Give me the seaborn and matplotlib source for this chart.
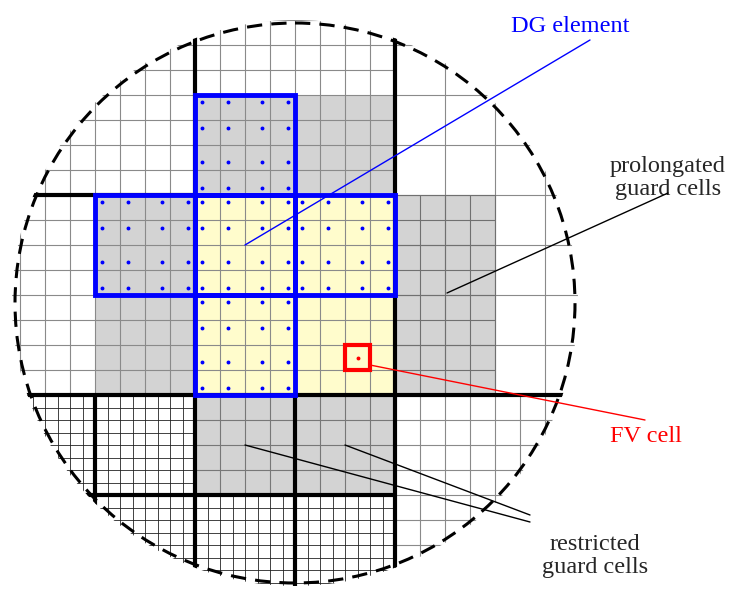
import numpy as np
import seaborn as sns
import matplotlib.pyplot as plt
from matplotlib.patches import Rectangle, Circle

sns.set_theme(style='white')
plt.rcParams['font.family'] = ['Liberation Serif', 'DejaVu Serif']

# blocks (x0, y0) of 100x100 DG elements, pixel units
dg_blocks = [(195, 95), (95, 195), (195, 195), (295, 195), (195, 295)]
yellow_blocks = [(195, 195), (295, 195), (195, 295), (295, 295)]
gray_blocks = [(195, 95), (295, 95), (95, 195), (95, 295), (395, 195), (395, 295), (195, 395), (295, 395)]
node_offsets = [7, 33, 67, 93]
# thick coarse lines: (x0, y0, x1, y1)
thick_lines = [(195, 0, 195, 600), (395, 0, 395, 600), (0, 195, 195, 195), (0, 395, 600, 395),
               (95, 395, 95, 600), (0, 495, 395, 495), (295, 395, 295, 600)]
cx, cy, r = 295, 303, 280

fig = plt.figure(figsize=(7.47, 5.95), dpi=100)
ax = fig.add_axes([0, 0, 1, 1])
ax.set_xlim(0, 747)
ax.set_ylim(595, 0)
ax.axis('off')
clip = Circle((cx, cy), r + 3, transform=ax.transData)

def grid(x0, x1, y0, y1, step, color, lw):
    for x in np.arange(x0, x1 + 0.01, step):
        ax.plot([x, x], [y0, y1], color=color, lw=lw, clip_path=clip)
    for y in np.arange(y0, y1 + 0.01, step):
        ax.plot([x0, x1], [y, y], color=color, lw=lw, clip_path=clip)

for x, y in gray_blocks:
    ax.add_patch(Rectangle((x, y), 100, 100, fc='#d3d3d3', ec='none'))
for x, y in yellow_blocks:
    ax.add_patch(Rectangle((x, y), 100, 100, fc='#fffccc', ec='none'))

# mesh refinement levels by region
grid(-30, 395, -30, 395, 25, '#8a8a8a', 0.8)
grid(395, 595, -5, 395, 50, '#8a8a8a', 0.8)
grid(395, 495, 195, 395, 25, '#707070', 0.8)
grid(395, 595, 395, 595, 25, '#8a8a8a', 0.8)
grid(-5, 195, 395, 600, 12.5, '#222222', 0.6)
grid(195, 395, 495, 600, 12.5, '#222222', 0.6)
grid(195, 395, 395, 495, 25, '#777777', 0.8)

for x0, y0, x1, y1 in thick_lines:
    ax.plot([x0, x1], [y0, y1], color='black', lw=3, clip_path=clip)

for x, y in dg_blocks:
    ax.add_patch(Rectangle((x, y), 100, 100, fill=False, ec='#0000ff', lw=3.5, zorder=5))
    for ox in node_offsets:
        for oy in node_offsets:
            ax.plot(x + ox, y + oy, 'o', color='#0000ff', ms=1.8, zorder=6)

ax.add_patch(Rectangle((345, 345), 25, 25, fill=False, ec='red', lw=3, zorder=7))
ax.plot(357.5, 357.5, 'o', color='red', ms=1.8, zorder=7)

ax.add_patch(Circle((cx, cy), r, fill=False, ec='black', lw=2.2, ls=(0, (5, 3)), zorder=8))

fs = 17.5
ax.plot([245, 590], [245, 40], color='#0000ff', lw=1, zorder=9)
ax.text(570, 27, 'DG element', color='#0000ff', fontsize=fs, ha='center', va='center')
ax.plot([447, 668], [293, 193], color='black', lw=1, zorder=9)
ax.text(668, 178, 'prolongated\nguard cells', fontsize=fs, ha='center', va='center', linespacing=1.1)
ax.plot([370, 645], [365, 420], color='red', lw=1, zorder=9)
ax.text(646, 437, 'FV cell', color='red', fontsize=fs, ha='center', va='center')
ax.plot([245, 530], [445, 522], color='black', lw=1, zorder=9)
ax.plot([345, 530], [445, 515], color='black', lw=1, zorder=9)
ax.text(595, 556, 'restricted\nguard cells', fontsize=fs, ha='center', va='center', linespacing=1.1)

fig.savefig('out.png', dpi=100)
